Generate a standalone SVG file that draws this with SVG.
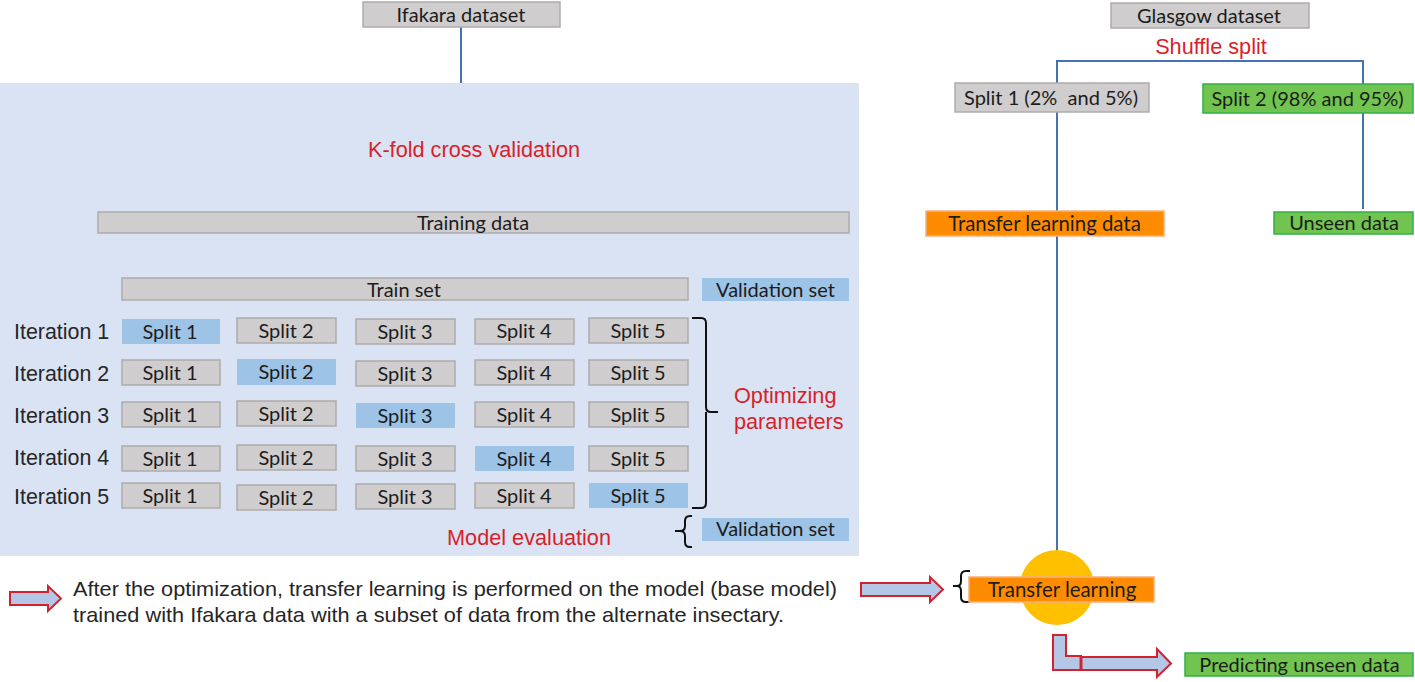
<svg xmlns="http://www.w3.org/2000/svg" width="1415" height="682" viewBox="0 0 1415 682">
<style>
.g{fill:#cfcdcd;stroke:#aeabab;stroke-width:1.5}
.b{fill:#9dc3e6}
.gr{fill:#70c44f;stroke:#2fb04a;stroke-width:1.5}
.o{fill:#ff8c00;stroke:#f4b183;stroke-width:1.5}
text{font-family:Lato,"Open Sans",sans-serif;font-size:20px;fill:#1c1c1c}
.m{text-anchor:middle}
.a{font-family:"Liberation Sans",Arial,sans-serif;font-size:21.4px;fill:#262626}
.n{font-family:"Liberation Sans",Arial,sans-serif;font-size:21px;fill:#262626}
.r{font-family:"Liberation Sans",Arial,sans-serif;font-size:21.7px;fill:#d81f2a}
.ln{fill:none;stroke:#4472b4;stroke-width:2}
.br{fill:none;stroke:#111;stroke-width:2}
.ar{fill:#b4c7e7;stroke:#d0232e;stroke-width:2}
</style>
<rect id="panel" x="0" y="83" width="859" height="473" fill="#dae3f3"/>
<g id="connectors">
<path class="ln" d="M461 27V83"/>
<path class="ln" d="M1057 112V61H1363V84"/>
<path class="ln" d="M1057 112V211M1057 236V552"/>
<path class="ln" d="M1363 113V209"/>
</g>
<g id="ifakara"><rect class="g" x="363" y="2" width="197" height="25"/><text class="m" x="461" y="22">Ifakara dataset</text></g>
<g id="glasgow"><rect class="g" x="1111" y="3" width="198" height="25"/><text class="m" x="1209" y="23">Glasgow dataset</text></g>
<text class="r m" x="1211" y="54">Shuffle split</text>
<text class="r m" x="474" y="157">K-fold cross validation</text>
<g id="split-1-top"><rect class="g" x="955" y="83" width="194" height="29"/><text class="m" x="1051" y="104.500" xml:space="preserve">Split 1 (2%  and 5%)</text></g>
<g id="split-2-top"><rect class="gr" x="1203" y="84" width="210" height="29"/><text class="m" x="1307.500" y="105.500">Split 2 (98% and 95%)</text></g>
<g id="transfer-data"><rect class="o" x="926" y="211" width="238" height="25"/><text class="m" x="1044.500" y="230.500" style="font-size:20.400px">Transfer learning data</text></g>
<g id="unseen"><rect class="gr" x="1274" y="212" width="139" height="22"/><text class="m" x="1344" y="230">Unseen data</text></g>
<g id="training"><rect class="g" x="98" y="212" width="751" height="21"/><text class="m" x="473" y="230">Training data</text></g>
<g id="train-set"><rect class="g" x="122" y="278" width="566" height="22"/><text class="m" x="404" y="296.500">Train set</text></g>
<g id="validation-1"><rect class="b" x="702" y="278" width="147" height="23"/><text class="m" x="775.500" y="296.500">Validation set</text></g>
<g id="validation-2"><rect class="b" x="702" y="518" width="147" height="23"/><text class="m" x="775.500" y="535.500">Validation set</text></g>
<g id="iter-labels">
<text class="a" x="14" y="339">Iteration 1</text>
<text class="a" x="14" y="381">Iteration 2</text>
<text class="a" x="14" y="423">Iteration 3</text>
<text class="a" x="14" y="465">Iteration 4</text>
<text class="a" x="14" y="504">Iteration 5</text>
</g>
<g id="row-1">
<rect class="b" x="122" y="319" width="98" height="25"/><text class="m" x="170" y="338.500">Split 1</text>
<rect class="g" x="237" y="318" width="99" height="25"/><text class="m" x="286" y="337.500">Split 2</text>
<rect class="g" x="356" y="319" width="99" height="25"/><text class="m" x="405" y="338.500">Split 3</text>
<rect class="g" x="475" y="319" width="99" height="25"/><text class="m" x="524" y="337.500">Split 4</text>
<rect class="g" x="589" y="318" width="99" height="25"/><text class="m" x="638" y="337.500">Split 5</text>
</g>
<g id="row-2">
<rect class="g" x="122" y="360" width="98" height="25"/><text class="m" x="170" y="379.500">Split 1</text>
<rect class="b" x="237" y="359" width="99" height="26"/><text class="m" x="286" y="378.500">Split 2</text>
<rect class="g" x="356" y="361" width="99" height="25"/><text class="m" x="405" y="380.500">Split 3</text>
<rect class="g" x="475" y="360" width="99" height="25"/><text class="m" x="524" y="379.500">Split 4</text>
<rect class="g" x="589" y="360" width="99" height="25"/><text class="m" x="638" y="379.500">Split 5</text>
</g>
<g id="row-3">
<rect class="g" x="122" y="402" width="98" height="25"/><text class="m" x="170" y="421.500">Split 1</text>
<rect class="g" x="237" y="401" width="99" height="25"/><text class="m" x="286" y="420.500">Split 2</text>
<rect class="b" x="356" y="403" width="99" height="25"/><text class="m" x="405" y="422.500">Split 3</text>
<rect class="g" x="475" y="402" width="99" height="25"/><text class="m" x="524" y="421.500">Split 4</text>
<rect class="g" x="589" y="402" width="99" height="25"/><text class="m" x="638" y="421.500">Split 5</text>
</g>
<g id="row-4">
<rect class="g" x="122" y="446" width="98" height="25"/><text class="m" x="170" y="465.500">Split 1</text>
<rect class="g" x="237" y="445" width="99" height="25"/><text class="m" x="286" y="464.500">Split 2</text>
<rect class="g" x="356" y="446" width="99" height="25"/><text class="m" x="405" y="465.500">Split 3</text>
<rect class="b" x="475" y="446" width="99" height="25"/><text class="m" x="524" y="465.500">Split 4</text>
<rect class="g" x="589" y="446" width="99" height="25"/><text class="m" x="638" y="465.500">Split 5</text>
</g>
<g id="row-5">
<rect class="g" x="122" y="483" width="98" height="25"/><text class="m" x="170" y="502.500">Split 1</text>
<rect class="g" x="237" y="485" width="99" height="25"/><text class="m" x="286" y="504.500">Split 2</text>
<rect class="g" x="356" y="484" width="99" height="25"/><text class="m" x="405" y="503.500">Split 3</text>
<rect class="g" x="475" y="483" width="99" height="25"/><text class="m" x="524" y="502.500">Split 4</text>
<rect class="b" x="589" y="483" width="99" height="25"/><text class="m" x="638" y="502.500">Split 5</text>
</g>
<path class="br" d="M692 318H701Q706 318 706 323V407Q706 412 711 412H718M706 412Q706 412 706 417V503Q706 508 701 508H692"/>
<path class="br" d="M692 516H690Q685 516 685 521V526Q685 531 680 531H675M680 531Q685 531 685 536V542Q685 547 690 547H692"/>
<path class="br" d="M970 571H966Q961 571 961 576V581Q961 586 957 586H953M957 586Q961 586 961 591V597Q961 602 966 602H970"/>
<text class="r" x="734" y="403">Optimizing</text>
<text class="r" x="734" y="429">parameters</text>
<text class="r" x="447" y="545">Model evaluation</text>
<g id="note">
<polygon class="ar" points="10,592 48,592 48,586 61,598.500 48,611 48,605 10,605"/>
<text class="n" x="73" y="596" textLength="764" lengthAdjust="spacingAndGlyphs">After the optimization, transfer learning is performed on the model (base model)</text>
<text class="n" x="73" y="622" textLength="711" lengthAdjust="spacingAndGlyphs">trained with Ifakara data with a subset of data from the alternate insectary.</text>
<polygon class="ar" points="861,583 930,583 930,577 943,589.500 930,602 930,596 861,596"/>
</g>
<g id="transfer">
<circle cx="1057" cy="587.500" r="37.500" fill="#ffc000"/>
<rect class="o" x="969" y="577" width="185" height="25"/>
<text class="m" x="1062" y="596.500" style="font-size:20.400px">Transfer learning</text>
</g>
<g id="bent-arrow">
<polygon class="ar" points="1053,635 1066,635 1066,656 1081,656 1081,670 1053,670"/>
<polygon class="ar" points="1081,657 1157,657 1157,649 1171,663.500 1157,677 1157,670 1081,670"/>
<path d="M1081 657V670" stroke="#d0232e" stroke-width="3" fill="none"/>
</g>
<g id="predicting"><rect class="gr" x="1185" y="653" width="228" height="23"/><text class="m" x="1299.500" y="671.500">Predicting unseen data</text></g>
</svg>
